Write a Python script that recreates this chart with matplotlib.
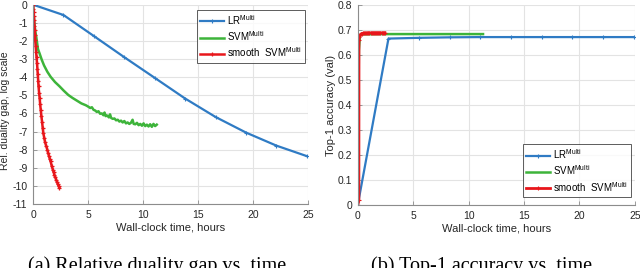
import matplotlib.pyplot as plt

plt.rcParams['font.family'] = ['Liberation Sans', 'DejaVu Sans']
plt.rcParams['mathtext.fontset'] = 'custom'
plt.rcParams['mathtext.rm'] = 'Liberation Sans'
plt.rcParams['axes.unicode_minus'] = False

# colours (MATLAB-ish)
c_lr = '#2f7bc4'
c_svm = '#3db43a'
c_smooth = '#e8161b'

# --- (a) relative duality gap, log scale ---
lr_t = [0, 2.77, 5.53, 8.3, 11.07, 13.83, 16.6, 19.37, 22.13, 24.9]
lr_gap = [0, -0.57, -1.73, -2.9, -4.04, -5.18, -6.2, -7.06, -7.78, -8.36]

svm_t = [0, 0.1, 0.2, 0.3, 0.45, 0.6, 0.8, 1.0, 1.3, 1.6, 2.0, 2.4, 2.8, 3.2,
         3.6, 4.0, 4.4, 4.8, 5.0, 5.2, 5.35, 5.5, 5.65, 5.8, 5.95, 6.1, 6.25,
         6.4, 6.5, 6.6, 6.75, 6.9, 7.0, 7.1, 7.25, 7.4, 7.55, 7.7, 7.85, 8.0,
         8.15, 8.3, 8.45, 8.6, 8.75, 8.9, 9.05, 9.15, 9.3, 9.45, 9.6, 9.75,
         9.9, 10.05, 10.2, 10.35, 10.5, 10.65, 10.8, 10.95, 11.1, 11.25]
svm_gap = [0, -0.9, -1.45, -1.8, -2.45, -2.7, -3.05, -3.35, -3.7, -3.98,
           -4.27, -4.5, -4.75, -4.98, -5.15, -5.3, -5.45, -5.55, -5.62, -5.7,
           -5.66, -5.8, -5.84, -5.92, -5.88, -6.02, -6.0, -6.1, -5.95, -6.15,
           -6.12, -6.22, -6.05, -6.25, -6.3, -6.28, -6.38, -6.35, -6.45, -6.4,
           -6.5, -6.42, -6.55, -6.5, -6.58, -6.52, -6.35, -6.58, -6.6, -6.52,
           -6.65, -6.58, -6.68, -6.55, -6.7, -6.62, -6.72, -6.6, -6.74, -6.58,
           -6.7, -6.62]

smooth_t = [0, 0.03, 0.05, 0.08, 0.1, 0.13, 0.15, 0.18, 0.2, 0.24, 0.28, 0.32,
            0.36, 0.4, 0.43, 0.47, 0.5, 0.55, 0.6, 0.65, 0.7, 0.76, 0.82, 0.88,
            0.94, 1.02, 1.1, 1.2, 1.3, 1.38, 1.45, 1.52, 1.6, 1.7, 1.8, 1.88,
            1.95, 2.02, 2.1, 2.18, 2.25, 2.32, 2.4]
smooth_gap = [0, -0.25, -0.4, -0.65, -0.85, -1.15, -1.4, -1.7, -1.95, -2.3,
              -2.6, -2.9, -3.2, -3.55, -3.85, -4.2, -4.5, -4.85, -5.15, -5.5,
              -5.8, -6.15, -6.45, -6.8, -7.1, -7.35, -7.6, -7.8, -8.0, -8.2,
              -8.35, -8.5, -8.65, -8.9, -9.1, -9.25, -9.4, -9.52, -9.65, -9.78,
              -9.9, -10.0, -10.1]

# --- (b) top-1 accuracy ---
lr_acc = [0, 0.666, 0.669, 0.671, 0.672, 0.672, 0.672, 0.672, 0.672, 0.672]

svm_acc_t = [0, 0.1, 0.2, 0.5, 2.0, 5.0, 8.0, 11.3]
svm_acc = [0, 0.62, 0.68, 0.683, 0.684, 0.684, 0.684, 0.684]

smooth_acc_t = [0, 0.1, 0.11, 0.15, 0.25, 0.35, 0.45, 0.55, 0.65, 0.75, 0.85,
                0.95, 1.05, 1.15, 1.25, 1.35, 1.45, 1.55, 1.65, 1.75, 1.85,
                1.95, 2.05, 2.15, 2.25, 2.35, 2.45]
smooth_acc = [0, 0.02, 0.66, 0.674, 0.683, 0.686, 0.687, 0.688, 0.688, 0.688,
              0.688, 0.689, 0.689, 0.689, 0.689, 0.689, 0.689, 0.689, 0.689,
              0.689, 0.689, 0.689, 0.689, 0.689, 0.689, 0.689, 0.689]

labels = [r'LR$^{\mathrm{Multi}}$', r'SVM$^{\mathrm{Multi}}$',
          r'smooth  SVM$^{\mathrm{Multi}}$']

fig = plt.figure(figsize=(6.4, 2.68), dpi=100)
ax1 = fig.add_axes([0.0516, 0.2388, 0.4297, 0.7437])
ax2 = fig.add_axes([0.559, 0.235, 0.433, 0.746])


def style(ax):
    ax.grid(True, color='#e3e3e3', linewidth=0.8)
    ax.set_axisbelow(True)
    for s in ['top', 'right']:
        ax.spines[s].set_visible(False)
    for s in ['left', 'bottom']:
        ax.spines[s].set_color('#8c8c8c')
        ax.spines[s].set_linewidth(0.8)
    ax.tick_params(direction='in', length=3, width=0.6, color='#8c8c8c',
                   labelsize=7.5, labelcolor='#262626', pad=4)
    ax.set_xlim(0, 25)
    ax.set_xticks([0, 5, 10, 15, 20, 25])
    ax.set_xlabel('Wall-clock time, hours', fontsize=8, color='#262626', labelpad=2)


ax1.plot(lr_t, lr_gap, color=c_lr, lw=1.6, marker='+', ms=3, mew=0.8, label=labels[0])
ax1.plot(svm_t, svm_gap, color=c_svm, lw=1.8, label=labels[1])
ax1.plot(smooth_t, smooth_gap, color=c_smooth, lw=1.8, marker='+', ms=3.5, mew=0.9, label=labels[2])
style(ax1)
ax1.set_ylim(-11, 0)
ax1.set_yticks(range(-11, 1))
ax1.set_ylabel('Rel. duality gap, log scale', fontsize=7.5, color='#262626')
ax1.yaxis.set_label_coords(-0.085, 0.47)
leg1 = ax1.legend(loc='upper right', bbox_to_anchor=(0.988, 0.975), fontsize=7,
                  frameon=True, fancybox=False, edgecolor='#333333',
                  handlelength=2.4, handletextpad=0.3, labelspacing=0.25,
                  borderpad=0.35, borderaxespad=0)
leg1.get_frame().set_linewidth(0.7)

ax2.plot(lr_t, lr_acc, color=c_lr, lw=1.6, marker='+', ms=3, mew=0.8, label=labels[0])
ax2.plot(svm_acc_t, svm_acc, color=c_svm, lw=1.8, label=labels[1])
ax2.plot(smooth_acc_t, smooth_acc, color=c_smooth, lw=2.0, marker='+', ms=3, mew=0.8, label=labels[2])
style(ax2)
ax2.set_ylim(0, 0.8)
ax2.set_yticks([0, 0.1, 0.2, 0.3, 0.4, 0.5, 0.6, 0.7, 0.8])
ax2.set_yticklabels(['0', '0.1', '0.2', '0.3', '0.4', '0.5', '0.6', '0.7', '0.8'])
ax2.set_ylabel('Top-1 accuracy (val)', fontsize=8, color='#262626')
ax2.yaxis.set_label_coords(-0.079, 0.5)
leg2 = ax2.legend(loc='lower right', bbox_to_anchor=(0.985, 0.04), fontsize=7,
                  frameon=True, fancybox=False, edgecolor='#333333',
                  handlelength=2.4, handletextpad=0.3, labelspacing=0.25,
                  borderpad=0.35, borderaxespad=0)
leg2.get_frame().set_linewidth(0.7)

fig.text(0.245, -0.012, '(a) Relative duality gap vs. time', ha='center',
         va='baseline', fontsize=14.5, family='Liberation Serif')
fig.text(0.752, -0.012, '(b) Top-1 accuracy vs. time', ha='center',
         va='baseline', fontsize=14.5, family='Liberation Serif')

fig.savefig('out.png', dpi=100)
